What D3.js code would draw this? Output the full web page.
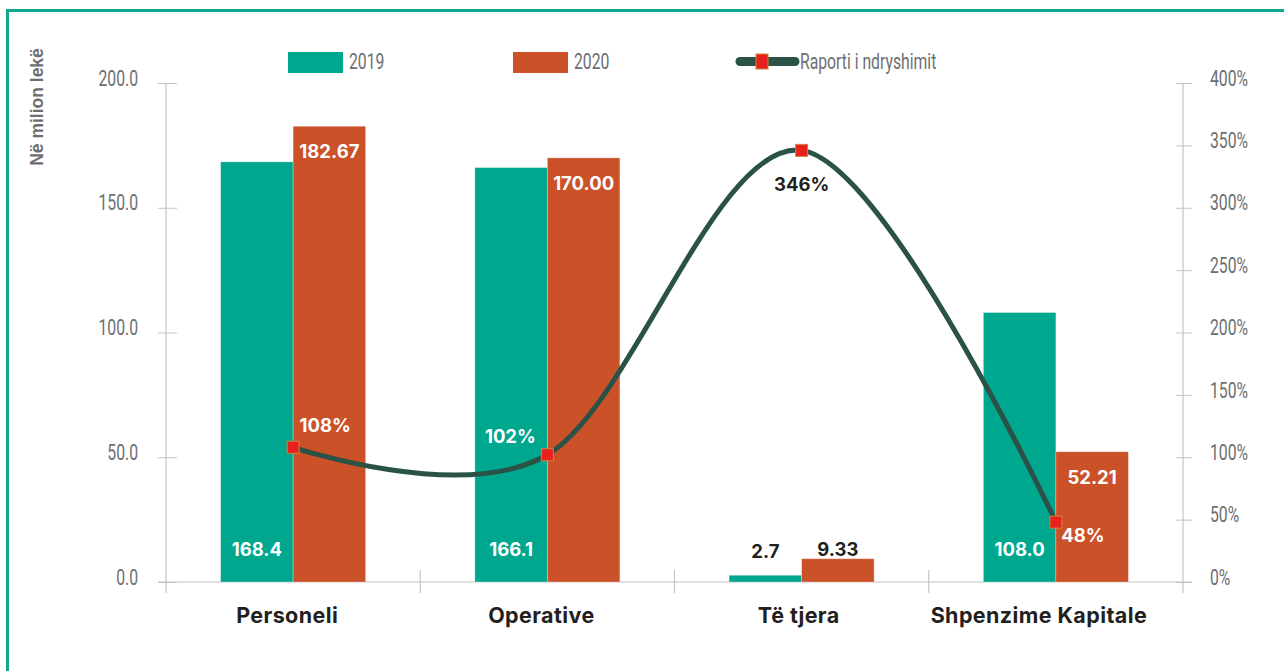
<!DOCTYPE html>
<html>
<head>
<meta charset="utf-8">
<script src="https://cdn.jsdelivr.net/npm/d3@7"></script>
<style>
    body { margin: 0; background: #fff; }
    svg { display: block; }
</style>
</head>
<body>
<div id="chart"></div>
<script>
"use strict";
(function () {
    // data
    const categories = ["Personeli", "Operative", "Të tjera", "Shpenzime Kapitale"]
    const values2019 = [168.4, 166.1, 2.7, 108.0]
    const values2020 = [182.67, 170.00, 9.33, 52.21]
    const ratio = [108, 102, 346, 48]
    const label2019 = ["168.4", "166.1", "2.7", "108.0"]
    const label2020 = ["182.67", "170.00", "9.33", "52.21"]
    const leftTicks = [0, 50, 100, 150, 200]
    const rightTicks = [0, 50, 100, 150, 200, 250, 300, 350, 400]

    const colors = {
        y2019: "#00a78f",
        y2020: "#cb5128",
        line: "#2b5247",
        marker: "#e8211f",
        markerEdge: "#d0843a",
        axis: "#c3c4c6",
        tick: "#6d6e71",
        dark: "#231f20",
        border: "#12a78f"
    }
    const thinFont = "Roboto, 'Liberation Sans', sans-serif"
    const boldFont = "Inter, 'Liberation Sans', sans-serif"
    const squeeze = 0.7

    const measurements = { width: 1284, height: 671, left: 166, right: 1183, top: 83, bottom: 582 }

    const svg = d3.select("#chart").append("svg")
        .attr("width", measurements.width)
        .attr("height", measurements.height)

    // narrow text: squeeze horizontally around its anchor
    function narrowText(sel) {
        sel.each(function () {
            const t = d3.select(this)
            const x = +(t.attr("x") || 0)
            const y = +(t.attr("y") || 0)
            t.attr("x", 0).attr("y", 0)
                .attr("transform", "translate(" + x + "," + y + ") scale(" + squeeze + ",1)")
                .style("font-family", thinFont).style("font-weight", 400).style("font-size", "22.5px")
                .attr("fill", colors.tick)
        })
    }

    // frame
    svg.append("rect")
        .attr("x", 7.5).attr("y", 10.5)
        .attr("width", 1400).attr("height", 800)
        .attr("fill", "none")
        .attr("stroke", colors.border)
        .attr("stroke-width", 3)

    const scaleX = d3.scaleBand()
        .domain(categories)
        .range([measurements.left, measurements.right])
    const scaleY = d3.scaleLinear()
        .domain([0, 200])
        .range([measurements.bottom, measurements.top])
    const scaleR = d3.scaleLinear()
        .domain([0, 400])
        .range([measurements.bottom, measurements.top])
    const barW = 72.5

    // left axis
    const leftAxis = d3.axisLeft(scaleY).tickValues(leftTicks)
        .tickFormat(d3.format(".1f")).tickSize(8).tickPadding(20)
    const gl = svg.append("g")
        .attr("transform", "translate(" + measurements.left + ",0)")
        .call(leftAxis)
    gl.select(".domain").remove()
    gl.selectAll(".tick line").attr("stroke", colors.axis).attr("x2", -8).attr("x1", 11)
    gl.selectAll(".tick text").attr("y", -5).call(narrowText)
    svg.append("line")
        .attr("x1", measurements.left).attr("x2", measurements.left)
        .attr("y1", measurements.top).attr("y2", measurements.bottom + 11)
        .attr("stroke", colors.axis).attr("stroke-width", 1.2)

    // right axis
    const rightAxis = d3.axisRight(scaleR).tickValues(rightTicks)
        .tickFormat(d => d + "%").tickSize(9).tickPadding(18)
    const gr = svg.append("g")
        .attr("transform", "translate(" + measurements.right + ",0)")
        .call(rightAxis)
    gr.select(".domain").remove()
    gr.selectAll(".tick line").attr("stroke", colors.axis).attr("x1", -7)
    gr.selectAll(".tick text").attr("y", -5).call(narrowText)
    svg.append("line")
        .attr("x1", measurements.right).attr("x2", measurements.right)
        .attr("y1", measurements.top).attr("y2", measurements.bottom + 11)
        .attr("stroke", colors.axis).attr("stroke-width", 1.2)

    // bottom axis
    svg.append("line")
        .attr("x1", measurements.left - 8).attr("x2", measurements.right + 9)
        .attr("y1", measurements.bottom).attr("y2", measurements.bottom)
        .attr("stroke", colors.axis).attr("stroke-width", 1.2)
    categories.slice(1).forEach(c => {
        svg.append("line")
            .attr("x1", scaleX(c)).attr("x2", scaleX(c))
            .attr("y1", measurements.bottom - 12).attr("y2", measurements.bottom + 11)
            .attr("stroke", colors.axis).attr("stroke-width", 1.2)
    })
    // category labels sit a little left of the band centre
    const catShift = [-6, -6, -3, -17]
    svg.selectAll(".catLabel")
        .data(categories)
        .enter().append("text")
        .attr("x", (d, i) => scaleX(d) + scaleX.bandwidth() / 2 + catShift[i])
        .attr("y", 623)
        .attr("text-anchor", "middle")
        .attr("fill", colors.dark)
        .style("font-family", boldFont).style("font-weight", "bold").style("font-size", "21.5px")
        .style("letter-spacing", "0.4px")
        .text(d => d)

    const center = i => scaleX(categories[i]) + scaleX.bandwidth() / 2

    // bars
    svg.selectAll(".bar2019")
        .data(values2019)
        .enter().append("rect")
        .attr("x", (d, i) => center(i) - barW)
        .attr("y", d => scaleY(d))
        .attr("width", barW)
        .attr("height", d => scaleY(0) - scaleY(d))
        .attr("fill", colors.y2019)
        .attr("stroke", "#ffffff").attr("stroke-opacity", 0.35).attr("stroke-width", 0.8)
    svg.selectAll(".bar2020")
        .data(values2020)
        .enter().append("rect")
        .attr("x", (d, i) => center(i))
        .attr("y", d => scaleY(d))
        .attr("width", barW)
        .attr("height", d => scaleY(0) - scaleY(d))
        .attr("fill", colors.y2020)
        .attr("stroke", "#ffffff").attr("stroke-opacity", 0.35).attr("stroke-width", 0.8)

    // value labels
    const valueStyle = sel => sel
        .attr("text-anchor", "middle")
        .style("font-family", boldFont).style("font-weight", "bold").style("font-size", "18.5px")
    label2019.forEach((t, i) => {
        const small = values2019[i] < 20
        svg.append("text")
            .attr("x", center(i) - barW / 2)
            .attr("y", small ? scaleY(values2019[i]) - 17 : measurements.bottom - 26)
            .attr("fill", small ? colors.dark : "#ffffff")
            .call(valueStyle)
            .text(t)
    })
    label2020.forEach((t, i) => {
        const small = values2020[i] < 20
        svg.append("text")
            .attr("x", center(i) + barW / 2)
            .attr("y", small ? scaleY(values2020[i]) - 3 : scaleY(values2020[i]) + 32)
            .attr("fill", small ? colors.dark : "#ffffff")
            .call(valueStyle)
            .text(t)
    })

    // ratio line
    const line = d3.line()
        .x((d, i) => center(i))
        .y(d => scaleR(d))
        .curve(d3.curveCardinal.tension(0))
    svg.append("path")
        .datum(ratio)
        .attr("d", line)
        .attr("fill", "none")
        .attr("stroke", colors.line)
        .attr("stroke-width", 5)
        .attr("stroke-linecap", "round")
    svg.selectAll(".marker")
        .data(ratio)
        .enter().append("rect")
        .attr("x", (d, i) => center(i) - 6)
        .attr("y", d => scaleR(d) - 6)
        .attr("width", 12).attr("height", 12)
        .attr("fill", colors.marker)
        .attr("stroke", colors.markerEdge).attr("stroke-width", 1)

    // ratio labels: offsets per point
    const ratioDx = [32, -37, 0, 27]
    const ratioDy = [-15, -12, 41, 20]
    const ratioFill = ["#ffffff", "#ffffff", colors.dark, "#ffffff"]
    ratio.forEach((r, i) => {
        svg.append("text")
            .attr("x", center(i) + ratioDx[i])
            .attr("y", scaleR(r) + ratioDy[i])
            .attr("fill", ratioFill[i])
            .call(valueStyle)
            .text(r + "%")
    })

    // y axis title
    svg.append("text")
        .attr("transform", "translate(43,107) rotate(-90)")
        .attr("text-anchor", "middle")
        .attr("fill", colors.tick)
        .style("font-family", "'Liberation Sans', Arial, sans-serif")
        .style("font-weight", "bold").style("font-size", "17.5px")
        .text("Në milion lekë")

    // legend
    const legendItems = [
        { name: "2019", x: 288, color: colors.y2019 },
        { name: "2020", x: 513, color: colors.y2020 }
    ]
    legendItems.forEach(item => {
        svg.append("rect")
            .attr("x", item.x).attr("y", 52)
            .attr("width", 55).attr("height", 21)
            .attr("fill", item.color)
        svg.append("text")
            .attr("x", item.x + 61).attr("y", 69)
            .text(item.name)
            .call(narrowText)
    })
    svg.append("line")
        .attr("x1", 740).attr("x2", 795)
        .attr("y1", 61.5).attr("y2", 61.5)
        .attr("stroke", colors.line).attr("stroke-width", 9)
        .attr("stroke-linecap", "round")
    svg.append("rect")
        .attr("x", 756).attr("y", 54).attr("width", 12).attr("height", 15)
        .attr("fill", colors.marker)
        .attr("stroke", colors.markerEdge).attr("stroke-width", 1)
    svg.append("text")
        .attr("x", 800).attr("y", 69)
        .text("Raporti i ndryshimit")
        .call(narrowText)
})()
</script>
</body>
</html>
